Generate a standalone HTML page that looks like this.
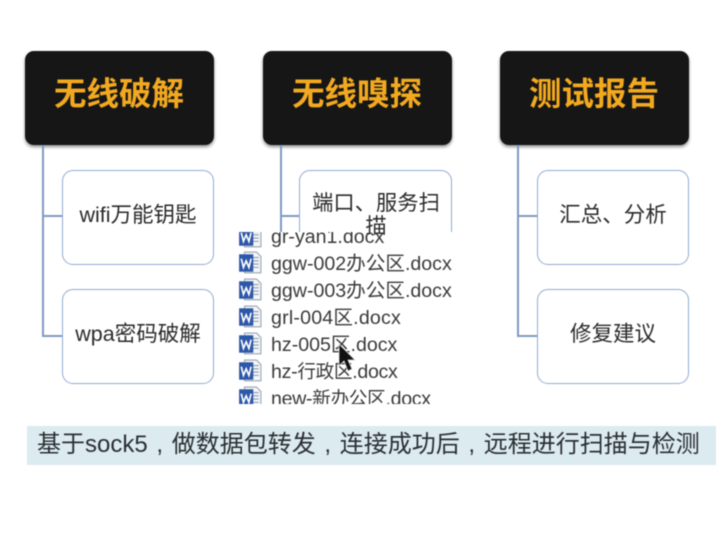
<!DOCTYPE html>
<html lang="zh">
<head>
<meta charset="utf-8">
<style>
html,body{margin:0;padding:0;background:#fff}
body{width:720px;height:540px;overflow:hidden;position:relative;font-family:"Liberation Sans","Noto Sans CJK SC",sans-serif}
#s{position:absolute;left:0;top:0;width:720px;height:540px;filter:blur(.5px)}
.h{position:absolute;top:51px;height:94px;width:189px;background:#161616;border-radius:9px;box-shadow:0 2px 3px rgba(0,0,0,.45);color:#f2a91f;font-size:32.5px;font-weight:bold;line-height:87px;text-align:center;white-space:nowrap;text-indent:-1px}
.c{position:absolute;width:150px;height:93px;border:1.5px solid #92abd3;border-radius:11px;background:#fff;color:#2b2b2b;font-size:21.5px;line-height:23px;display:flex;align-items:center;justify-content:center;text-align:center;box-sizing:content-box;padding-bottom:0}
.c span{position:relative;top:-2px}
.l{position:absolute;background:#7f9ac4}
#o{position:absolute;left:236px;top:232px;width:218px;height:172px;background:#fff;overflow:hidden}
.r{position:absolute;left:35px;font-size:19.6px;line-height:22px;color:#3a3a3a;white-space:nowrap}
.r b{font-weight:normal;font-size:18.6px}
.i{position:absolute;left:2px;width:24px;height:24px}
#b{position:absolute;left:27px;top:426px;width:689px;height:39px;background:#dcebf0;color:#2a2f33;font-size:24px;line-height:38px;white-space:nowrap;padding-left:10px;box-sizing:border-box}
#b i{font-style:normal;display:inline-block;width:1em;text-align:center}
#m{position:absolute;left:312px;top:192px;width:128px;color:#2b2b2b;font-size:21.3px;line-height:23px;text-align:center}
</style>
</head>
<body>
<div id="s">
<div class="h" style="left:25px">无线破解</div>
<div class="h" style="left:263px">无线嗅探</div>
<div class="h" style="left:500px">测试报告</div>

<div class="l" style="left:42px;top:145px;width:2px;height:192px"></div>
<div class="l" style="left:43px;top:215px;width:20px;height:2px"></div>
<div class="l" style="left:43px;top:335px;width:20px;height:2px"></div>
<div class="l" style="left:280px;top:145px;width:2px;height:90px"></div>
<div class="l" style="left:281px;top:215px;width:20px;height:2px"></div>
<div class="l" style="left:517px;top:145px;width:2px;height:192px"></div>
<div class="l" style="left:518px;top:215px;width:20px;height:2px"></div>
<div class="l" style="left:518px;top:335px;width:20px;height:2px"></div>

<div class="c" style="left:62px;top:170px"><span>wifi万能钥匙</span></div>
<div class="c" style="left:62px;top:289px"><span>wpa密码破解</span></div>
<div class="c" style="left:299px;top:170px;width:151px"></div>
<div class="c" style="left:537px;top:170px"><span>汇总、分析</span></div>
<div class="c" style="left:537px;top:289px"><span>修复建议</span></div>

<svg width="0" height="0" style="position:absolute">
<defs>
<g id="w">
<path d="M6 1H17L21 5V20H6Z" fill="#f4f6f8" stroke="#9aa5b3" stroke-width="1"/>
<path d="M13 6H19M13 9H19M13 12H19M13 15H19" stroke="#8e9bb0" stroke-width="1"/>
<rect x="1" y="3" width="13" height="16" fill="#2d57a8"/>
<path d="M3 7L5 15L7.5 9L10 15L12 7" fill="none" stroke="#fff" stroke-width="1.5"/>
</g>
</defs>
</svg>

<div id="o">
<svg class="i" style="top:-7px" viewBox="0 0 22 22"><use href="#w"/></svg>
<svg class="i" style="top:19px" viewBox="0 0 22 22"><use href="#w"/></svg>
<svg class="i" style="top:46px" viewBox="0 0 22 22"><use href="#w"/></svg>
<svg class="i" style="top:73px" viewBox="0 0 22 22"><use href="#w"/></svg>
<svg class="i" style="top:100px" viewBox="0 0 22 22"><use href="#w"/></svg>
<svg class="i" style="top:127px" viewBox="0 0 22 22"><use href="#w"/></svg>
<svg class="i" style="top:154px" viewBox="0 0 22 22"><use href="#w"/></svg>
<div class="r" style="top:-6px">gr-yan1.docx</div>
<div class="r" style="top:21px">ggw-002办公区.docx</div>
<div class="r" style="top:48px">ggw-003办公区.docx</div>
<div class="r" style="top:75px;letter-spacing:.2px">grl-004区.docx</div>
<div class="r" style="top:102px">hz-005区.docx</div>
<div class="r" style="top:129px"><span style="letter-spacing:-.3px">hz-<b>行政区</b>.docx</span></div>
<div class="r" style="top:156px"><span style="letter-spacing:-.3px">new-<b>新办公区</b>.docx</span></div>
<svg style="position:absolute;left:100px;top:110px" width="22" height="32" viewBox="0 0 22 32">
<path d="M3 2V24L8 19L12 29L16 27L12 18H19Z" fill="#111" stroke="#ddd" stroke-width=".8"/>
</svg>
</div>

<div id="m">端口、服务扫描</div>

<div id="b">基于sock5<i>,</i>做数据包转发<i>,</i>连接成功后<i>,</i>远程进行扫描与检测</div>
</div>
</body>
</html>
